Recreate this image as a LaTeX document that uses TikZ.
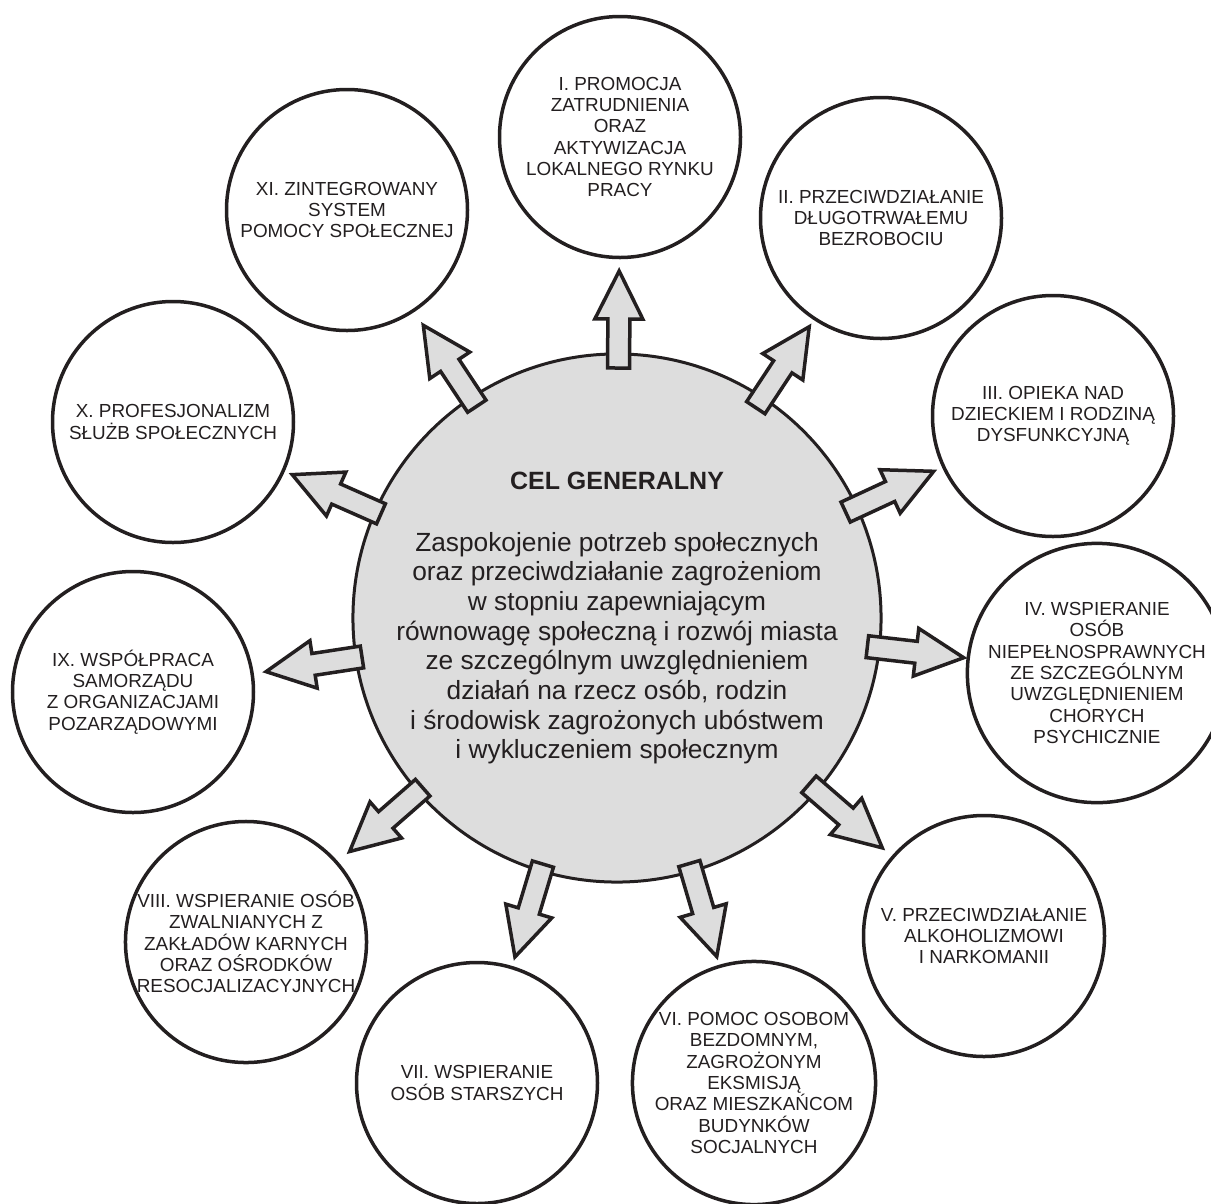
\documentclass[tikz,border=0pt]{standalone}
\usepackage{fontspec}
\setmainfont{Liberation Sans}
\usetikzlibrary{calc}
\definecolor{ink}{HTML}{231F20}
\definecolor{shade}{HTML}{DDDDDD}
\begin{document}
\begin{tikzpicture}[x=1pt,y=-1pt,
  goal/.style={circle, draw=ink, line width=3.5pt, minimum size=241pt, inner sep=0pt,
    align=center, text=ink, font=\fontsize{18.9}{21.3}\selectfont},
  core/.style={circle, draw=ink, line width=3pt, fill=shade, minimum size=489pt, inner sep=0pt,
    align=center, text=ink, font=\fontsize{26.3}{29.7}\selectfont},
  blk/.style={draw=ink, fill=shade, line width=3.5pt, line join=miter}]
\useasboundingbox (0,0) rectangle (1211,1203);

\node[core] (core) at (617,618) {{\bfseries\fontsize{25}{29.7}\selectfont CEL GENERALNY}\\[32.3pt]
Zaspokojenie potrzeb społecznych\\
oraz przeciwdziałanie zagrożeniom\\
w stopniu zapewniającym\\
równowagę społeczną i rozwój miasta\\
ze szczególnym uwzględnieniem\\
działań na rzecz osób, rodzin\\
i środowisk zagrożonych ubóstwem\\
i wykluczeniem społecznym};

\node[goal] (I) at (620,137) {I. PROMOCJA\\ZATRUDNIENIA\\ORAZ\\AKTYWIZACJA\\LOKALNEGO RYNKU\\PRACY};
\node[goal] (II) at (881,218) {II. PRZECIWDZIAŁANIE\\DŁUGOTRWAŁEMU\\BEZROBOCIU};
\node[goal] (III) at (1053,416) {III. OPIEKA NAD\\DZIECKIEM I RODZINĄ\\DYSFUNKCYJNĄ};
\node[goal] (IV) at (1097,673) {IV. WSPIERANIE\\OSÓB\\NIEPEŁNOSPRAWNYCH\\ZE SZCZEGÓLNYM\\UWZGLĘDNIENIEM\\CHORYCH\\PSYCHICZNIE};
\node[goal] (V) at (984,936) {V. PRZECIWDZIAŁANIE\\ALKOHOLIZMOWI\\I NARKOMANII};
\node[goal] (VI) at (754,1083) {VI. POMOC OSOBOM\\BEZDOMNYM,\\ZAGROŻONYM\\EKSMISJĄ\\ORAZ MIESZKAŃCOM\\BUDYNKÓW\\SOCJALNYCH};
\node[goal] (VII) at (477,1083) {VII. WSPIERANIE\\OSÓB STARSZYCH};
\node[goal] (VIII) at (246,942) {VIII. WSPIERANIE OSÓB\\ZWALNIANYCH Z\\ZAKŁADÓW KARNYCH\\ORAZ OŚRODKÓW\\RESOCJALIZACYJNYCH};
\node[goal] (IX) at (133,692) {IX. WSPÓŁPRACA\\SAMORZĄDU\\Z ORGANIZACJAMI\\POZARZĄDOWYMI};
\node[goal] (X) at (173,422) {X. PROFESJONALIZM\\SŁUŻB SPOŁECZNYCH};
\node[goal] (XI) at (347,210) {XI. ZINTEGROWANY\\SYSTEM\\POMOCY SPOŁECZNEJ};

\foreach \n/\ds in {I/250,II/252,III/252,IV/252,V/254,VI/256,VII/257,VIII/258,IX/258,X/258,XI/254}{
  \pgfmathsetmacro\dd{\ds+97}
  \coordinate (t) at ($(core.center)!\ds pt!(\n.center)$);
  \coordinate (p) at ($(core.center)!\dd pt!(\n.center)$);
  \coordinate (h) at ($(t)!49pt!(p)$);
  \draw[blk] ($(t)!11pt!90:(p)$) -- ($(h)!11pt!-90:(t)$) -- ($(h)!24pt!-90:(t)$) -- (p)
    -- ($(h)!24pt!90:(t)$) -- ($(h)!11pt!90:(t)$) -- ($(t)!11pt!-90:(p)$) -- cycle;
}
\end{tikzpicture}
\end{document}
